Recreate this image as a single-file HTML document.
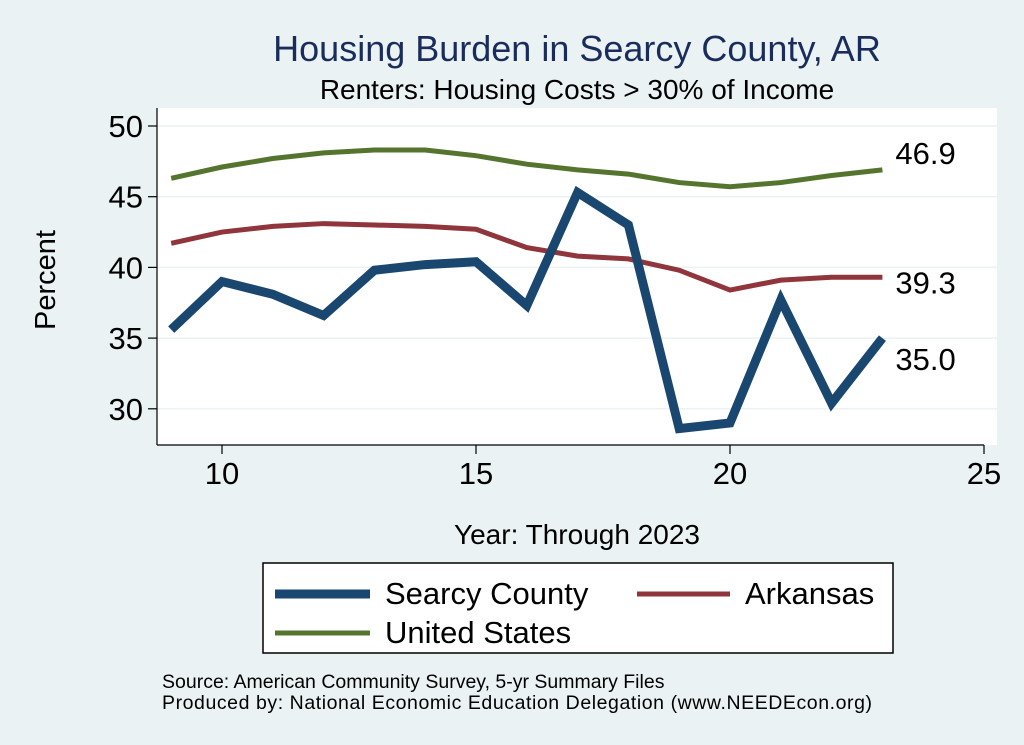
<!DOCTYPE html>
<html><head><meta charset="utf-8"><style>
body{margin:0;background:#eaf2f3;}
svg{display:block;font-family:"Liberation Sans",sans-serif;}
</style></head><body>
<svg width="1024" height="745" viewBox="0 0 1024 745">
<rect x="0" y="0" width="1024" height="745" fill="#eaf2f3"/>
<text x="577" y="61" font-size="36" fill="#1a2c5b" text-anchor="middle">Housing Burden in Searcy County, AR</text>
<text x="577" y="99" font-size="28" fill="#000" text-anchor="middle">Renters: Housing Costs &gt; 30% of Income</text>
<rect x="157" y="108" width="840" height="337" fill="#fff"/>
<g id="grid"></g>
<g id="axes"></g>
<g id="series"></g>
<text x="55" y="280" font-size="29" text-anchor="middle" transform="rotate(-90 55 280)">Percent</text>
<text x="577" y="544" font-size="28" text-anchor="middle">Year: Through 2023</text>
<g>
<rect x="263" y="563" width="630" height="90" fill="#fff" stroke="#000" stroke-width="1.5"/>
<line x1="275" y1="594" x2="370" y2="594" stroke="#1a476f" stroke-width="9"/>
<text x="385" y="604" font-size="31">Searcy County</text>
<line x1="637" y1="594" x2="730" y2="594" stroke="#90353b" stroke-width="5"/>
<text x="745" y="604" font-size="31">Arkansas</text>
<line x1="275" y1="633" x2="370" y2="633" stroke="#55752f" stroke-width="5"/>
<text x="385" y="643" font-size="31">United States</text>
</g>
<text x="162" y="688" font-size="19.5">Source: American Community Survey, 5-yr Summary Files</text>
<text x="162" y="709" font-size="19.5" textLength="710" lengthAdjust="spacing">Produced by: National Economic Education Delegation (www.NEEDEcon.org)</text>
</svg>
<script>
const years=[9,10,11,12,13,14,15,16,17,18,19,20,21,22,23];
const searcy=[35.6,39.0,38.1,36.6,39.8,40.2,40.4,37.3,45.3,43.0,28.6,29.0,37.7,30.4,35.0];
const arkansas=[41.7,42.5,42.9,43.1,43.0,42.9,42.7,41.4,40.8,40.6,39.8,38.4,39.1,39.3,39.3];
const us=[46.3,47.1,47.7,48.1,48.3,48.3,47.9,47.3,46.9,46.6,46.0,45.7,46.0,46.5,46.9];
const xTicks=[10,15,20,25];
const yTicks=[30,35,40,45,50];
const NS="http://www.w3.org/2000/svg";
const X=v=>222+(v-10)*50.8;
const Y=v=>126+(50-v)*14.14;
function mk(tag,attrs,parent){const e=document.createElementNS(NS,tag);for(const k in attrs)e.setAttribute(k,attrs[k]);document.getElementById(parent).appendChild(e);return e;}
yTicks.forEach(t=>{
 const g=mk('line',{x1:157,x2:997,y1:Y(t),y2:Y(t),stroke:'#eaf2f3','stroke-width':1.5},'grid');
 
 
 const tk=mk('line',{x1:148,x2:157,y1:Y(t),y2:Y(t),stroke:'#000','stroke-width':1.2},'axes');
 
 
 const tx=mk('text',{x:143,y:Y(t)+11,'font-size':31,'text-anchor':'end'},'axes');tx.textContent=t;
 
 
});
xTicks.forEach(t=>{
 const tk=mk('line',{x1:X(t),x2:X(t),y1:445,y2:454,stroke:'#000','stroke-width':1.2},'axes');
 
 
 const tx=mk('text',{x:X(t),y:484,'font-size':31,'text-anchor':'middle'},'axes');tx.textContent=t;
 
 
});
const ya=mk('line',{x1:157,x2:157,y1:108,y2:445,stroke:'#000','stroke-width':1.2},'axes');


const xa=mk('line',{x1:157,x2:X(25),y1:445,y2:445,stroke:'#000','stroke-width':1.2},'axes');


function series(vals,color,w,name,labY){
 const p=mk('polyline',{points:vals.map((v,i)=>X(years[i])+','+Y(v)).join(' '),fill:'none',stroke:color,'stroke-width':w,'stroke-linejoin':'miter'},'series');
 
 
 const last=vals[vals.length-1];
 const t=mk('text',{x:X(years[years.length-1])+13,y:Y(last)+labY,'font-size':31},'series');t.textContent=last.toFixed(1);
 
 
}
series(us,'#55752f',5,'us',-6);
series(arkansas,'#90353b',5,'arkansas',16);
series(searcy,'#1a476f',9,'searcy',32);
</script>
</body></html>
